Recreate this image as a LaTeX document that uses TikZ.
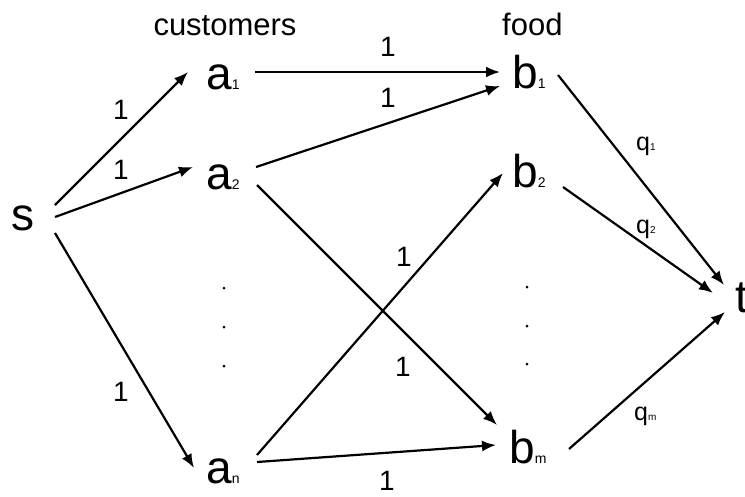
\documentclass[tikz,border=0pt]{standalone}
\usepackage{fontspec}
\setmainfont{Liberation Sans}
\usetikzlibrary{arrows.meta}
\newcommand{\bigf}{\fontsize{46}{46}\selectfont}
\newcommand{\subf}{\fontsize{14}{14}\selectfont}
\newcommand{\qsubf}{\fontsize{10}{10}\selectfont}
\begin{document}
\begin{tikzpicture}[x=1pt,y=-1pt,
  vert/.style={font=\bigf, inner sep=0pt, anchor=base west},
  head/.style={font=\fontsize{31}{31}\selectfont, inner sep=0pt},
  wlab/.style={font=\fontsize{28}{28}\selectfont, inner sep=0pt},
  qlab/.style={font=\fontsize{25}{25}\selectfont, inner sep=0pt, anchor=base west},
  arr/.style={line width=2.2pt, -{Latex[length=14pt,width=11pt]}},
  dotm/.style={fill=black}]
\useasboundingbox (0,0) rectangle (745,496);
% vertices
\node[vert] (s)  at (11,230) {s};
\node[vert] (a1) at (206,89) {a{\subf 1}};
\node[vert] (a2) at (206,189) {a{\subf 2}};
\node[vert] (an) at (206,483) {a{\subf n}};
\node[vert] (b1) at (512,88) {b{\subf 1}};
\node[vert] (b2) at (512,187) {b{\subf 2}};
\node[vert] (bm) at (509,463) {b{\subf m}};
\node[vert] (t)  at (735,312) {t};
% headers
\node[head, anchor=base] (hc) at (225,35) {customers};
\node[head, anchor=base west] (hf) at (502,35) {food};
% dots
\foreach \y in {288,327,366} \fill[dotm] (224,\y) circle (1.5);
\foreach \y in {287,326,364} \fill[dotm] (527,\y) circle (1.5);
% edges s -> a
\draw[arr] ([shift={(44,-25)}]s.base west) -- ([shift={(-18,-17)}]a1.base west);
\draw[arr] ([shift={(44,-13)}]s.base west) -- ([shift={(-13,-22)}]a2.base west);
\draw[arr] ([shift={(44,3)}]s.base west) -- ([shift={(-12,-15)}]an.base west);
% edges a -> b
\draw[arr] ([shift={(49,-17)}]a1.base west) -- ([shift={(-12,-16)}]b1.base west);
\draw[arr] ([shift={(50,-22)}]a2.base west) -- ([shift={(-12,-2)}]b1.base west);
\draw[arr] ([shift={(51,-4)}]a2.base west) -- ([shift={(-12,-38)}]bm.base west);
\draw[arr] ([shift={(51,-28)}]an.base west) -- ([shift={(-9,-14)}]b2.base west);
\draw[arr] ([shift={(51,-21)}]an.base west) -- ([shift={(-13,-18)}]bm.base west);
% edges b -> t
\draw[arr] ([shift={(46,-13)}]b1.base west) -- ([shift={(-11,-27)}]t.base west);
\draw[arr] ([shift={(51,0)}]b2.base west) -- ([shift={(-22,-19)}]t.base west);
\draw[arr] ([shift={(60,-14)}]bm.base west) -- ([shift={(-10,0)}]t.base west);
% weight labels
\node[wlab] (l1) at (121,110) {1};
\node[wlab] (l2) at (121,170) {1};
\node[wlab] (l3) at (121,392) {1};
\node[wlab] (l4) at (388,47) {1};
\node[wlab] (l5) at (388,98) {1};
\node[wlab] (l6) at (404,257) {1};
\node[wlab] (l7) at (403,367) {1};
\node[wlab] (l8) at (387,481) {1};
\node[qlab] (q1) at (636,150) {q{\qsubf 1}};
\node[qlab] (q2) at (636,233) {q{\qsubf 2}};
\node[qlab] (qm) at (634,420) {q{\qsubf m}};
\end{tikzpicture}
\end{document}
